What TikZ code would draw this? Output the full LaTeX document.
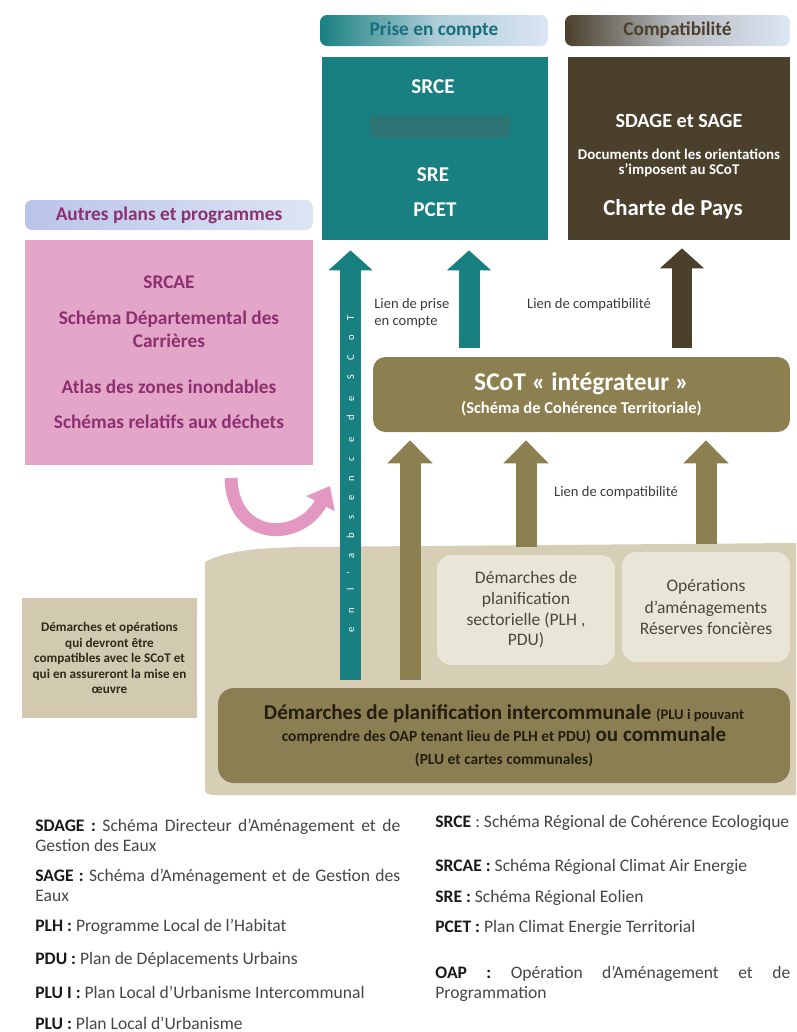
\documentclass[tikz,border=0pt]{standalone}
\usepackage{fontspec}
\setmainfont{Carlito}
\usetikzlibrary{arrows.meta}

\definecolor{tealbox}{RGB}{24,128,128}
\definecolor{tealtext}{RGB}{25,110,125}
\definecolor{masquecol}{RGB}{45,116,116}
\definecolor{darkbox}{RGB}{74,64,44}
\definecolor{olivebox}{RGB}{141,128,80}
\definecolor{pluolive}{RGB}{138,126,82}
\definecolor{plutext}{RGB}{35,30,15}
\definecolor{pinkbox}{RGB}{228,166,200}
\definecolor{pinktext}{RGB}{140,48,112}
\definecolor{pinkarc}{RGB}{226,152,192}
\definecolor{hdrblue}{RGB}{220,229,243}
\definecolor{hdrlilac}{RGB}{186,196,234}
\definecolor{bgbeige}{RGB}{214,207,181}
\definecolor{subbeige}{RGB}{234,230,215}
\definecolor{subtext}{RGB}{75,72,60}
\definecolor{notebeige}{RGB}{210,202,176}
\definecolor{notetext}{RGB}{50,40,25}
\definecolor{lbltext}{RGB}{60,60,60}
\definecolor{legtext}{RGB}{70,70,70}
\definecolor{legbold}{RGB}{25,25,25}

\newcommand{\sigle}[1]{\textbf{\color{legbold}#1}}

\tikzset{
  hdr/.style={rounded corners=4pt, minimum height=0.62cm, font=\fontsize{11}{13}\selectfont\bfseries},
  whitetxt/.style={text=white, font=\fontsize{12}{14}\selectfont\bfseries},
  tealarrow/.style={draw=tealbox, line width=0.42cm, -{Triangle[width=0.86cm,length=0.4cm]}},
  darkarrow/.style={draw=darkbox, line width=0.4cm, -{Triangle[width=0.86cm,length=0.4cm]}},
  olivearrow/.style={draw=olivebox, line width=0.42cm, -{Triangle[width=0.88cm,length=0.46cm]}},
  subbox/.style={fill=subbeige, rounded corners=8pt, minimum height=2.2cm, text=subtext, align=center},
  lbl/.style={text=lbltext, font=\fontsize{8.3}{9.7}\selectfont, inner sep=0pt},
  leg/.style={anchor=west, align=left, inner sep=0pt, text=legtext, font=\fontsize{10}{11.4}\selectfont}
}

\begin{document}
\begin{tikzpicture}[x=0.02cm, y=-0.02cm]
\useasboundingbox (0,0) rectangle (796,1032);

% fond beige
\fill[bgbeige] (205,790) -- (205,562) .. controls (225,551) and (255,548) .. (300,547)
  -- (796,543) -- (796,795) -- (215,795) .. controls (208,795) and (205,793) .. (205,790);

% en-tetes
\node[hdr, minimum width=4.56cm, left color=tealbox, right color=hdrblue, middle color=hdrblue!75!tealbox, text=tealtext] (hprise) at (434,30.5) {Prise en compte};
\node[hdr, minimum width=4.5cm, left color=darkbox, right color=hdrblue, middle color=hdrblue!75!darkbox, text=darkbox] (hcompat) at (677.5,30.5) {Compatibilité};
\node[hdr, minimum width=5.76cm, minimum height=0.6cm, left color=hdrlilac, right color=hdrblue, text=pinktext] (hautres) at (169,215) {Autres plans et programmes};

% prise en compte
\node[fill=tealbox, minimum width=4.52cm, minimum height=3.66cm] (prise) at (435,148.5) {};
\node[whitetxt] (srce) at (433,87) {SRCE};
\node[fill=masquecol, minimum width=2.8cm, minimum height=0.46cm, inner sep=0pt] (masque) at (440,126.5) {};
\node[whitetxt] (sre) at (433,175) {SRE};
\node[whitetxt] (pcet) at (435,210) {PCET};

% compatibilite
\node[fill=darkbox, minimum width=4.44cm, minimum height=3.66cm] (compat) at (679,148.5) {};
\node[whitetxt, font=\fontsize{11.5}{13}\selectfont\bfseries] (sdage) at (679,121) {SDAGE et SAGE};
\node[whitetxt, align=center, font=\fontsize{8.5}{9}\selectfont\bfseries] (docs) at (679,163) {Documents dont les orientations\\s’imposent au SCoT};
\node[whitetxt, font=\fontsize{13}{15}\selectfont\bfseries] (charte) at (673,209) {Charte de Pays};

% autres plans
\node[fill=pinkbox, minimum width=5.76cm, minimum height=4.5cm, text=pinktext, align=center,
  font=\fontsize{11}{13}\selectfont\bfseries] (autres) at (169,352.5)
  {SRCAE\\[7.4pt]Schéma Départemental des\\Carrières\\[13pt]Atlas des zones inondables\\[7.4pt]Schémas relatifs aux déchets};

% SCoT
\node[fill=olivebox, rounded corners=7pt, minimum width=8.34cm, minimum height=1.5cm, text=white, align=center,
  font=\fontsize{14.5}{13}\selectfont\bfseries] (scot) at (581.5,394.5)
  {SCoT «~intégrateur~»\\{\fontsize{9.4}{13}\selectfont (Schéma de Cohérence Territoriale)}};

% demarches
\node[subbox, minimum width=3.56cm, font=\fontsize{10}{11.8}\selectfont] (secto) at (526,610)
  {Démarches de\\planification\\sectorielle (PLH ,\\PDU)};
\node[subbox, minimum width=3.36cm, font=\fontsize{10}{12.2}\selectfont] (operat) at (706,607)
  {Opérations\\d’aménagements\\Réserves foncières};
\node[fill=notebeige, minimum width=3.5cm, minimum height=2.4cm, text=notetext, align=center,
  font=\fontsize{7.5}{8.8}\selectfont\bfseries] (note) at (109.5,658)
  {Démarches et opérations\\qui devront être\\compatibles avec le SCoT et\\qui en assureront la mise en\\œuvre};
\node[fill=pluolive, rounded corners=9pt, minimum width=11.44cm, minimum height=1.9cm, text=plutext, align=center,
  font=\fontsize{12}{12.8}\selectfont\bfseries] (plu) at (504,735.5)
  {Démarches de planification intercommunale {\fontsize{8.3}{12.8}\selectfont (PLU i pouvant}\\
   {\fontsize{8.8}{12.8}\selectfont comprendre des OAP tenant lieu de PLH et PDU)} ou communale\\
   {\fontsize{8.8}{12.8}\selectfont (PLU et cartes communales)}};

% fleches
\coordinate (xl) at (350.5,0);
\coordinate (xr) at (469,0);
\coordinate (xc) at (682,0);
\coordinate (xo) at (410,0);
\draw[tealarrow, shorten <=0.16cm, shorten >=0.2cm] (plu.north -| xl) -- (prise.south -| xl);
\draw[tealarrow, shorten <=0.18cm, shorten >=0.2cm] (scot.north -| xr) -- (prise.south -| xr);
\draw[darkarrow, shorten <=0.18cm, shorten >=0.16cm] (scot.north -| xc) -- (compat.south -| xc);
\draw[olivearrow, shorten <=0.16cm, shorten >=0.16cm] (plu.north -| xo) -- (scot.south -| xo);
\draw[olivearrow, shorten <=0.16cm, shorten >=0.16cm] (secto.north) -- (scot.south -| secto.north);
\draw[olivearrow, shorten <=0.16cm, shorten >=0.16cm] (operat.north) -- (scot.south -| operat.north);

\node[rotate=90, text=white, inner sep=0pt,
  font=\fontsize{6}{7}\selectfont\addfontfeature{LetterSpace=135}] (absence) at (350.5,474) {en l’absence de SCoT};

\node[lbl, anchor=west, align=left] (lprise) at (374,313) {Lien de prise\\en compte};
\node[lbl] (lcompat) at (589,305) {Lien de compatibilité};
\node[lbl] (lcompat2) at (616,493) {Lien de compatibilité};

% fleche courbe rose
\coordinate (arcdep) at (231,478);
\coordinate (arcfin) at (330,486);
\draw[pinkarc, line width=0.26cm, -{Triangle[width=0.62cm,length=0.4cm]}] (arcdep) .. controls (233,542) and (300,542) .. (arcfin);

% legende
\node[leg, text width=7.3cm, align=justify] (lsdage) at (35,835) {\sigle{SDAGE :} Schéma Directeur d’Aménagement et de\linebreak Gestion des Eaux};
\node[leg, text width=7.3cm, align=justify] (lsage) at (35,885.5) {\sigle{SAGE :} Schéma d’Aménagement et de Gestion des\linebreak Eaux};
\node[leg] (lplh) at (35,927) {\sigle{PLH :} Programme Local de l’Habitat};
\node[leg] (lpdu) at (35,960) {\sigle{PDU :} Plan de Déplacements Urbains};
\node[leg] (lplui) at (35,992.5) {\sigle{PLU I :} Plan Local d’Urbanisme Intercommunal};
\node[leg] (lplu) at (35,1023) {\sigle{PLU :} Plan Local d’Urbanisme};
\node[leg] (lsrce) at (435,823) {\sigle{SRCE} : Schéma Régional de Cohérence Ecologique};
\node[leg] (lsrcae) at (435,867) {\sigle{SRCAE :} Schéma Régional Climat Air Energie};
\node[leg] (lsre) at (435,898) {\sigle{SRE :} Schéma Régional Eolien};
\node[leg] (lpcet) at (435,928) {\sigle{PCET :} Plan Climat Energie Territorial};
\node[leg, text width=7.1cm] (loap) at (435,983.5) {\sigle{OAP}\hfill\sigle{:}\hfill Opération\hfill d’Aménagement\hfill et\hfill de\\Programmation};
\end{tikzpicture}
\end{document}
